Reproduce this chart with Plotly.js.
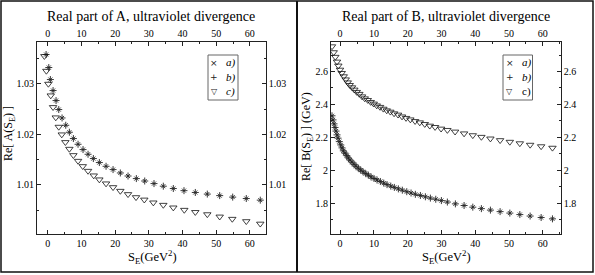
<!DOCTYPE html>
<html>
<head>
<meta charset="utf-8">
<script src="https://cdn.plot.ly/plotly-3.0.1.min.js"></script>
<style>html,body{margin:0;padding:0;background:#fff;}#chart{width:595px;height:275px;}</style>
</head>
<body>
<div id="chart"></div>
<script>
// ---- Left panel: Real part of A ----
const aX = [-0.5, 0.3, 0.77, 1.57, 2.46, 3.26, 4.24, 5.34, 6.41, 7.6, 8.99, 10.47, 11.96, 13.53, 15.31, 17.3, 19.38, 21.54, 23.83, 26.29, 28.78, 31.54, 34.3, 37.27, 40.44, 43.8, 47.36, 51.04, 54.9, 58.93, 63.09];
const aA = [1.03582, 1.03325, 1.03087, 1.02869, 1.02671, 1.02493, 1.02327, 1.02182, 1.02044, 1.01919, 1.01806, 1.01701, 1.01608, 1.01523, 1.01444, 1.01370, 1.01305, 1.01238, 1.01178, 1.01127, 1.01079, 1.01028, 1.00976, 1.00930, 1.00888, 1.00852, 1.00820, 1.00790, 1.00760, 1.00732, 1.00700];
const aB = [1.03582, 1.03325, 1.03087, 1.02869, 1.02671, 1.02493, 1.02327, 1.02182, 1.02044, 1.01919, 1.01806, 1.01701, 1.01608, 1.01523, 1.01444, 1.01370, 1.01305, 1.01238, 1.01178, 1.01127, 1.01079, 1.01028, 1.00976, 1.00930, 1.00888, 1.00852, 1.00820, 1.00790, 1.00760, 1.00732, 1.00700];
const aCX = [-1.01, -0.42, 0.18, 0.89, 1.57, 2.37, 3.26, 4.15, 5.22, 6.41, 7.6, 8.99, 10.39, 11.96, 13.65, 15.31, 17.3, 19.38, 21.54, 23.83, 26.2, 28.66, 31.34, 34.3, 37.27, 40.53, 43.8, 47.36, 51.04, 54.78, 58.93, 63.09];
const aC = [1.03549, 1.03257, 1.03000, 1.02770, 1.02539, 1.02335, 1.02149, 1.01998, 1.01846, 1.01713, 1.01588, 1.01475, 1.01370, 1.01277, 1.01186, 1.01107, 1.01028, 1.00954, 1.00881, 1.00816, 1.00756, 1.00708, 1.00651, 1.00604, 1.00552, 1.00505, 1.00462, 1.00418, 1.00372, 1.00327, 1.00281, 1.00232];

// ---- Right panel: Real part of B ----
const bX = [-2.4, -2.1, -1.81, -1.51, -1.21, -0.92, -0.62, -0.24, 0.18, 0.56, 0.95, 1.45, 1.96, 2.43, 2.93, 3.52, 4.12, 4.71, 5.39, 6.1, 6.78, 7.58, 8.35, 9.15, 10.04, 10.93, 11.91, 12.92, 13.89, 14.99, 16.05, 17.24, 18.42, 19.73, 21.0, 22.27, 23.76, 25.24, 26.72, 28.32, 29.98, 31.75, 34.12, 36.7, 39.28, 41.82, 44.49, 47.36, 50.24, 53.2, 56.25, 59.51, 62.86];
const bA = [2.331, 2.306, 2.282, 2.260, 2.238, 2.215, 2.195, 2.174, 2.154, 2.136, 2.118, 2.104, 2.089, 2.075, 2.062, 2.049, 2.036, 2.024, 2.012, 2.001, 1.991, 1.980, 1.970, 1.960, 1.950, 1.941, 1.932, 1.922, 1.913, 1.904, 1.896, 1.887, 1.879, 1.870, 1.862, 1.854, 1.847, 1.839, 1.831, 1.824, 1.816, 1.807, 1.796, 1.786, 1.776, 1.767, 1.758, 1.749, 1.740, 1.731, 1.722, 1.713, 1.705];
const bB = [2.331, 2.306, 2.282, 2.260, 2.238, 2.215, 2.195, 2.174, 2.154, 2.136, 2.118, 2.104, 2.089, 2.075, 2.062, 2.049, 2.036, 2.024, 2.012, 2.001, 1.991, 1.980, 1.970, 1.960, 1.950, 1.941, 1.932, 1.922, 1.913, 1.904, 1.896, 1.887, 1.879, 1.870, 1.862, 1.854, 1.847, 1.839, 1.831, 1.824, 1.816, 1.807, 1.796, 1.786, 1.776, 1.767, 1.758, 1.749, 1.740, 1.731, 1.722, 1.713, 1.705];
const bCX = [-2.4, -1.9, -1.42, -0.92, -0.53, -0.03, 0.47, 1.07, 1.66, 2.25, 2.84, 3.53, 4.21, 4.92, 5.69, 6.49, 7.29, 8.18, 9.06, 9.95, 10.84, 11.82, 12.8, 13.8, 14.87, 15.97, 17.15, 18.33, 19.52, 20.79, 22.19, 23.58, 25.06, 26.54, 28.11, 29.89, 31.75, 34.03, 36.7, 39.28, 41.82, 44.49, 47.36, 50.24, 53.2, 56.25, 59.51, 62.86];
const bC = [2.752, 2.716, 2.688, 2.659, 2.635, 2.610, 2.590, 2.570, 2.551, 2.533, 2.517, 2.503, 2.489, 2.475, 2.463, 2.448, 2.436, 2.426, 2.414, 2.404, 2.393, 2.384, 2.373, 2.363, 2.355, 2.345, 2.337, 2.326, 2.317, 2.308, 2.298, 2.290, 2.280, 2.270, 2.262, 2.252, 2.244, 2.234, 2.223, 2.212, 2.202, 2.192, 2.182, 2.172, 2.163, 2.154, 2.145, 2.136];

const seriesNames = ['a)', 'b)', 'c)'];
const panelTitles = ['Real part of A, ultraviolet divergence', 'Real part of B, ultraviolet divergence'];
const xTitle = 'S<sub>E</sub>(GeV<sup>2</sup>)';
const yTitles = ['Re[ A(S<sub>E</sub>) ]', 'Re[ B(S<sub>E</sub>) ] (GeV)'];

const SERIF = 'Liberation Serif';
const W = 595, H = 275;
const px = v => v / W;
const py = v => 1 - v / H;

function mk(x, y, kind, xa, ya, name) {
  let marker;
  if (kind === 'x') marker = {symbol: 'x-thin', size: 4, line: {color: '#222', width: 0.9}};
  else if (kind === '+') marker = {symbol: 'cross-thin', size: 5, line: {color: '#222', width: 0.9}};
  else marker = {symbol: 'triangle-down-open', size: 6.5, color: '#111', line: {color: '#111', width: 0.8}};
  return {type: 'scatter', mode: 'markers', x: x, y: y, xaxis: xa, yaxis: ya, name: name, marker: marker, showlegend: false, hoverinfo: 'x+y'};
}
function ghost(x, y, xa, ya) {
  return {type: 'scatter', mode: 'markers', x: x, y: y, xaxis: xa, yaxis: ya, marker: {opacity: 0}, showlegend: false, hoverinfo: 'skip'};
}

const data = [
  mk(aX, aA, 'x', 'x', 'y', seriesNames[0]),
  mk(aX, aB, '+', 'x', 'y', seriesNames[1]),
  mk(aCX, aC, 'v', 'x', 'y', seriesNames[2]),
  ghost(aX, aA, 'x2', 'y2'),
  mk(bX, bA, 'x', 'x3', 'y3', seriesNames[0]),
  mk(bX, bB, '+', 'x3', 'y3', seriesNames[1]),
  mk(bCX, bC, 'v', 'x3', 'y3', seriesNames[2]),
  ghost(bX, bA, 'x4', 'y4')
];

const tickFont = {family: SERIF, size: 10, color: '#000'};
function axBase(extra) {
  return Object.assign({
    showline: true, linecolor: '#222', linewidth: 1, mirror: false,
    showgrid: false, zeroline: false,
    ticks: 'inside', ticklen: 4, tickwidth: 1, tickcolor: '#222',
    tickfont: tickFont, fixedrange: true
  }, extra);
}
const mn = d => ({dtick: d, ticklen: 2, ticks: 'inside', tickcolor: '#222'});

const domL = [px(37), px(265.7)];
const domR = [px(331), px(560.7)];
const domY = [py(234), py(42)];
const rxL = [-3.2, 64.7];
const rxR = [-2.7, 65.3];
const ryL = [1.0003, 1.0383];
const ryR = [1.613, 2.779];

const layout = {
  width: W, height: H,
  margin: {l: 0, r: 0, t: 0, b: 0, pad: 0},
  paper_bgcolor: '#fff', plot_bgcolor: '#fff',
  showlegend: false,
  font: {family: SERIF, color: '#000'},
  xaxis: axBase({domain: domL, range: rxL, anchor: 'y', side: 'bottom', tick0: 0, dtick: 10, minor: mn(5)}),
  xaxis2: axBase({range: rxL, overlaying: 'x', anchor: 'y', side: 'top', tick0: 0, dtick: 10, minor: mn(5)}),
  yaxis: axBase({domain: domY, range: ryL, anchor: 'x', side: 'left', tick0: 1, dtick: 0.01, minor: mn(0.005)}),
  yaxis2: axBase({range: ryL, overlaying: 'y', anchor: 'x', side: 'right', tick0: 1, dtick: 0.01, minor: mn(0.005)}),
  xaxis3: axBase({domain: domR, range: rxR, anchor: 'y3', side: 'bottom', tick0: 0, dtick: 10, minor: mn(5)}),
  xaxis4: axBase({range: rxR, overlaying: 'x3', anchor: 'y3', side: 'top', tick0: 0, dtick: 10, minor: mn(5)}),
  yaxis3: axBase({domain: domY, range: ryR, anchor: 'x3', side: 'left', tick0: 0, dtick: 0.2, minor: mn(0.1)}),
  yaxis4: axBase({range: ryR, overlaying: 'y3', anchor: 'x3', side: 'right', tick0: 0, dtick: 0.2, minor: mn(0.1)}),
  shapes: [
    {type: 'rect', xref: 'paper', yref: 'paper', x0: px(1), x1: px(593), y0: py(272), y1: py(1), line: {color: '#111', width: 1.5}},
    {type: 'line', xref: 'paper', yref: 'paper', x0: px(297), x1: px(297), y0: py(272), y1: py(1), line: {color: '#111', width: 2}},
    {type: 'rect', xref: 'paper', yref: 'paper', x0: px(208), x1: px(238), y0: py(100), y1: py(55), line: {color: '#666', width: 1}},
    {type: 'rect', xref: 'paper', yref: 'paper', x0: px(503), x1: px(532.5), y0: py(100), y1: py(55), line: {color: '#666', width: 1}}
  ],
  annotations: []
};

const A = layout.annotations;
function ann(text, x, y, opts) {
  A.push(Object.assign({text: text, xref: 'paper', yref: 'paper', x: px(x), y: py(y), xanchor: 'center', yanchor: 'middle', showarrow: false, font: {family: SERIF, size: 11, color: '#000'}}, opts || {}));
}
// panel titles
ann(panelTitles[0], 151, 17, {font: {family: SERIF, size: 14, color: '#000'}});
ann(panelTitles[1], 446, 17, {font: {family: SERIF, size: 14, color: '#000'}});
// x titles
ann(xTitle, 152, 257, {font: {family: SERIF, size: 12.5, color: '#000'}});
ann(xTitle, 446, 257, {font: {family: SERIF, size: 12.5, color: '#000'}});
// y titles
ann(yTitles[0], 9, 134, {textangle: -90, font: {family: SERIF, size: 12, color: '#000'}});
ann(yTitles[1], 307, 137, {textangle: -90, font: {family: SERIF, size: 12, color: '#000'}});
// legends
const legSyms = ['×', '+', '▽'];
const legY = [62.5, 77.5, 91.5];
[[214, 224, true], [509.5, 519.5, false]].forEach(([sx, tx, italC]) => {
  for (let i = 0; i < 3; i++) {
    ann(legSyms[i], sx, legY[i], {font: {family: 'DejaVu Sans', size: i === 2 ? 8 : 9, color: '#222'}});
    const t = (i < 2 || italC) ? '<i>' + seriesNames[i] + '</i>' : seriesNames[i];
    ann(t, tx, legY[i], {xanchor: 'left', font: {family: SERIF, size: 11, color: '#000'}});
  }
});

Plotly.newPlot('chart', data, layout, {staticPlot: true, displayModeBar: false});
</script>
</body>
</html>
